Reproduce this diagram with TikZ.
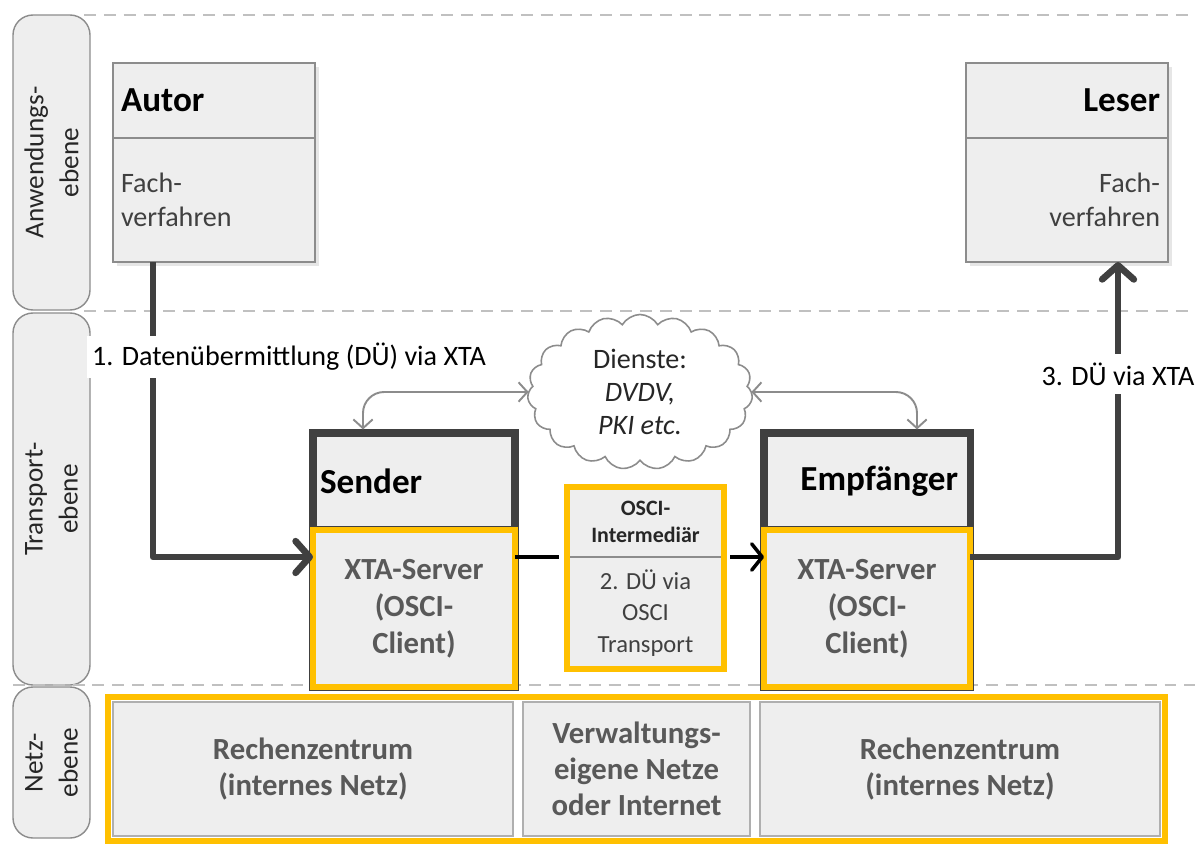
\documentclass[tikz,border=0pt]{standalone}
\usepackage{fontspec}
\setmainfont{Carlito}
\usetikzlibrary{arrows.meta,positioning,fit,shapes.symbols,shadows}

\definecolor{boxgray}{HTML}{EEEEEE}
\definecolor{linegray}{HTML}{8C8C8C}
\definecolor{darkline}{HTML}{404040}
\definecolor{gelb}{HTML}{FFC000}
\definecolor{textgray}{HTML}{595959}
\definecolor{dashgray}{HTML}{C0C0C0}
\newdimen\pxu \pxu=0.02cm

\begin{document}
\begin{tikzpicture}[x=0.02cm, y=-0.02cm, outer sep=0pt, inner sep=0pt,
    font=\fontsize{16}{20}\selectfont, >={Straight Barb[length=8pt,width=18pt,round]}]
          \tikzstyle{ebene}=[draw=linegray, fill=boxgray, rounded corners=0.4cm, rotate=90, minimum height=77\pxu, align=center, text=black!85, line width=0.8pt, font=\fontsize{15.5}{20}\selectfont]
          \tikzstyle{trenner}=[draw=dashgray, line width=1.1pt, dash pattern=on 6.8pt off 4.5pt]
          \tikzstyle{kopf}=[draw=linegray, line width=1pt, fill=boxgray, minimum width=202\pxu, minimum height=75\pxu, text width=186\pxu, font=\fontsize{20}{24}\selectfont\bfseries]
          \tikzstyle{rumpf}=[kopf, minimum height=124\pxu, text=black!75, font=\fontsize{16}{19.5}\selectfont]
          \tikzstyle{schatten}=[drop shadow={shadow xshift=2pt, shadow yshift=-2pt, opacity=0.2}]
          \tikzstyle{sendkopf}=[draw=darkline, line width=4pt, fill=boxgray, minimum height=97\pxu, font=\fontsize{20}{24}\selectfont\bfseries]
          \tikzstyle{xtabox}=[fill=boxgray, draw=gelb, line width=2.9pt, preaction={draw=darkline, line width=4pt}, minimum height=157\pxu, align=center, text=textgray, font=\fontsize{17.5}{21}\selectfont\bfseries]
          \tikzstyle{gelbrahmen}=[draw=gelb, line width=2.9pt]
          \tikzstyle{zelle}=[draw=linegray!70, line width=0.6pt, fill=boxgray, minimum height=134\pxu, align=center, text=textgray, font=\fontsize{17.5}{20.5}\selectfont\bfseries]
          \tikzstyle{fluss}=[->, draw=darkline, line width=3.8pt, line join=round]
          \tikzstyle{verbindung}=[draw=black, line width=2pt, >={Straight Barb[length=6pt,width=15pt,round]}]
          \tikzstyle{dienstpfeil}=[<->, draw=linegray, line width=1.1pt, rounded corners=12pt, >={Straight Barb[length=5pt,width=11pt]}]

          \useasboundingbox (0,0) rectangle (1203,852);

          % Ebenen
          \node[ebene, minimum width=295\pxu] (anw)   at (51.5,162.5) {Anwendungs-\\ebene};
          \node[ebene, minimum width=372\pxu] (trans) at (51.5,499)   {Transport-\\ebene};
          \node[ebene, minimum width=151\pxu] (netz)  at (51.5,762.5) {Netz-\\ebene};
          \draw[trenner] (84,15) -- (1195,15);
          \draw[trenner] (84,311) -- (1195,311);
          \draw[trenner] (13,685) -- (1195,685);

          % Anwendungsebene
          \node[kopf, schatten, align=left]  (autor)     at (214,100.5)      {Autor};
          \node[rumpf, schatten, align=left] (autorbody) [below=0pt of autor] {Fach-\\verfahren};
          \node[kopf, schatten, align=right]  (leser)     at (1067,100.5)     {Leser};
          \node[rumpf, schatten, align=right] (leserbody) [below=0pt of leser] {Fach-\\verfahren};

          % Transportebene
          \node[sendkopf, minimum width=202\pxu, text width=188\pxu, align=left]  (senderhead) at (414,481.5) {Sender};
          \node[xtabox, minimum width=202\pxu] (senderbody) [below=0pt of senderhead] {XTA-Server\\(OSCI-\\Client)};
          \node[sendkopf, minimum width=206\pxu, text width=182\pxu, align=right] (empfhead)   at (867,481.5) {Empfänger};
          \node[xtabox, minimum width=206\pxu] (empfbody) [below=0pt of empfhead] {XTA-Server\\(OSCI-\\Client)};

          \node[fill=boxgray, minimum width=157\pxu, minimum height=70\pxu, align=center, text=black!85,
                font=\fontsize{12.5}{15.3}\selectfont\bfseries] (oscihead) at (645.5,522) {OSCI-\\Intermediär};
          \node[fill=boxgray, minimum width=157\pxu, minimum height=112\pxu, align=center, text=black!75,
                font=\fontsize{14}{18}\selectfont] (oscibody) [below=0pt of oscihead] {2. DÜ via\\OSCI\\Transport};
          \draw[linegray, line width=1pt] (oscihead.south west) -- (oscihead.south east);
          \node[gelbrahmen, fit=(oscihead)(oscibody)] (osci) {};

          \node[cloud, cloud puffs=19, cloud puff arc=120, cloud ignores aspect, draw=linegray, line width=0.9pt,
                fill=white, minimum width=225\pxu, minimum height=155\pxu, align=center, text=black!85,
                font=\fontsize{16}{18.7}\selectfont] (dienste) at (640,392) {Dienste:\\\textit{DVDV,}\\\textit{PKI etc.}};

          % Netzebene
          \node[zelle, minimum width=400\pxu] (rz1) at (313,769) {Rechenzentrum\\(internes Netz)};
          \node[zelle, minimum width=227\pxu] (vnetz) [right=10\pxu of rz1] {Verwaltungs-\\eigene Netze\\oder Internet};
          \node[zelle, minimum width=400\pxu] (rz2) [right=10\pxu of vnetz] {Rechenzentrum\\(internes Netz)};
          \node[gelbrahmen, minimum width=1057\pxu, minimum height=144\pxu] (netzrahmen) at (636.5,769) {};

          % Datenfluss
          \draw[fluss] ([xshift=40\pxu]autorbody.south west) |- (senderbody.west |- oscihead.south);
          \node[fill=white, inner xsep=3pt, inner ysep=4pt] (due1) at (289,357) {1. Datenübermittlung (DÜ) via XTA};
          \draw[verbindung, shorten >=8\pxu] (senderbody.east |- oscihead.south) -- (osci.west |- oscihead.south);
          \draw[verbindung, ->, shorten <=6\pxu] (osci.east |- oscihead.south) -- (empfbody.west |- oscihead.south);
          \draw[fluss] (empfbody.east |- oscihead.south) -| node[pos=0.81, fill=white, inner xsep=3pt, inner ysep=5pt] (due3) {3. DÜ via XTA} ([xshift=-50\pxu]leserbody.south east);
          \draw[dienstpfeil, shorten >=2pt] (dienste.west) -| ([xshift=50\pxu]senderhead.north west);
          \draw[dienstpfeil, shorten >=2pt] (dienste.east) -| ([xshift=-53\pxu]empfhead.north east);
        \end{tikzpicture}
\end{document}
